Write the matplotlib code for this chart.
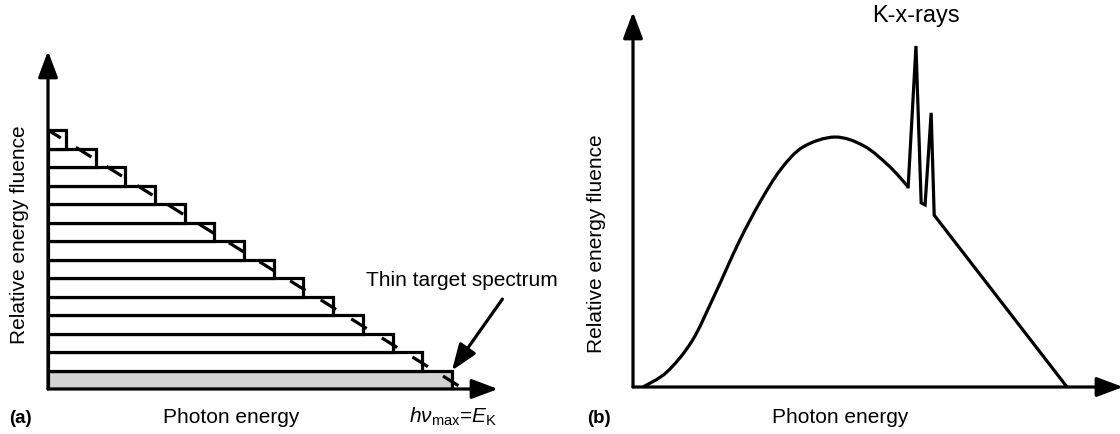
import numpy as np
import matplotlib.pyplot as plt
from matplotlib.collections import LineCollection
from matplotlib.path import Path
from matplotlib.patches import PathPatch

plt.rcParams['font.family'] = ['Liberation Sans', 'DejaVu Sans']
plt.rcParams['mathtext.fontset'] = 'custom'
plt.rcParams['mathtext.rm'] = 'Liberation Sans'
plt.rcParams['mathtext.it'] = 'Liberation Sans:italic'

# (a) thick target seen as a stack of thin-target layers
layer_base = np.arange(14)          # fluence level where each layer sits
layer_edge = 13.6 - layer_base      # photon energy where each layer ends
thin_e = [0.0, 14.0]                # thin target spectrum (straight line)
thin_f = [14.0, 0.0]

# (b) thick target spectrum: continuum, then the K characteristic lines
cont_e = [2.3, 7.8, 13.6, 18.7, 24.4, 29.3, 34.1, 39.2, 46.5, 53.2, 59.0, 63.4]
cont_f = [0.0, 4.4, 13.5, 26.7, 42.5, 54.3, 63.9, 70.4, 73.3, 70.7, 64.8, 58.7]
kline_e = [63.4, 65.2, 66.4, 67.3, 68.7, 69.4, 100.0]
kline_f = [58.7, 100.0, 54.0, 53.4, 80.4, 50.4, 0.0]

W, H = 1120, 435
LW = 2.3
FS = 15


def axes_px(x0, y_axis, x_tip, y_tip):
    # axes placed by pixel position of origin and arrow tips
    return fig.add_axes([x0 / W, (H - y_axis) / H, (x_tip - x0) / W, (y_axis - y_tip) / H])


def arrow_props():
    return dict(arrowstyle='-|>,head_length=0.8,head_width=0.3', mutation_scale=20,
                lw=LW, color='k', shrinkA=0, shrinkB=0)


def axis_arrows(ax):
    for end in [(1, 0), (0, 1)]:
        ax.annotate('', xy=end, xytext=(0, 0), xycoords='axes fraction',
                    arrowprops=arrow_props(), annotation_clip=False)


def smooth_path(xs, ys):
    # Catmull-Rom curve through the points, as cubic Bezier pieces
    pts = np.column_stack([xs, ys])
    n = len(pts)
    verts, codes = [pts[0]], [Path.MOVETO]
    for i in range(n - 1):
        p0, p1 = pts[max(i - 1, 0)], pts[i]
        p2, p3 = pts[i + 1], pts[min(i + 2, n - 1)]
        verts += [p1 + (p2 - p0) / 6, p2 - (p3 - p1) / 6, p2]
        codes += [Path.CURVE4] * 3
    return Path(verts, codes)


fig = plt.figure(figsize=(W / 100, H / 100), dpi=100)

# ---- panel (a)
ax1 = axes_px(48, 390, 498, 52)
ax1.set_xlim(0, 450 / 29.7)
ax1.set_ylim(0, 338 / 18.5)
ax1.set_axis_off()
colors = ['#d3d3d3'] + ['white'] * (len(layer_base) - 1)
ax1.barh(layer_base, layer_edge, height=1, left=0, align='edge',
         color=colors, edgecolor='k', lw=LW, zorder=2)

# dashed thin-target line
starts = -0.09 + 1.03 * np.arange(15)
segs = []
for s in starts:
    a, b = max(s, thin_e[0]), min(s + 0.52, thin_e[1])
    if b > a:
        segs.append([(a, np.interp(a, thin_e, thin_f)), (b, np.interp(b, thin_e, thin_f))])
ax1.add_collection(LineCollection(segs, colors='k', lw=LW, zorder=3, capstyle='butt'))
axis_arrows(ax1)

ax1.annotate('', xy=(layer_edge[0], 1), xytext=(15.3, 4.86),
             arrowprops=arrow_props(), annotation_clip=False, zorder=4)
ax1.text(13.95, 5.9, 'Thin target spectrum', ha='center', va='center', fontsize=FS)

fig.text(20 / W, 1 - 235 / H, 'Relative energy fluence', rotation=90,
         ha='center', va='center', fontsize=FS)
fig.text(231 / W, 1 - 418 / H, 'Photon energy', ha='center', va='center', fontsize=FS)
fig.text(9 / W, 1 - 419 / H, '(a)', ha='left', va='center', fontsize=13.5, fontweight='bold')
fig.text(409 / W, 1 - 423 / H, r'$h\nu_{\rm max}$=$E_{\rm K}$', ha='left',
         va='baseline', fontsize=FS)

# ---- panel (b)
ax2 = axes_px(633, 388, 1123, 13)
ax2.set_xlim(0, 490 / 4.34)
ax2.set_ylim(0, 375 / 3.41)
ax2.set_axis_off()
ax2.add_patch(PathPatch(smooth_path(cont_e, cont_f), fill=False, lw=LW,
                        edgecolor='k', zorder=3))
ax2.plot(kline_e, kline_f, color='k', lw=LW, solid_joinstyle='miter', zorder=3)
axis_arrows(ax2)

fig.text(916 / W, 1 - 16 / H, 'K-x-rays', ha='center', va='center', fontsize=17)
fig.text(597 / W, 1 - 244 / H, 'Relative energy fluence', rotation=90,
         ha='center', va='center', fontsize=FS)
fig.text(840 / W, 1 - 418 / H, 'Photon energy', ha='center', va='center', fontsize=FS)
fig.text(587 / W, 1 - 419 / H, '(b)', ha='left', va='center', fontsize=13.5, fontweight='bold')

fig.savefig('out.png', dpi=100)
